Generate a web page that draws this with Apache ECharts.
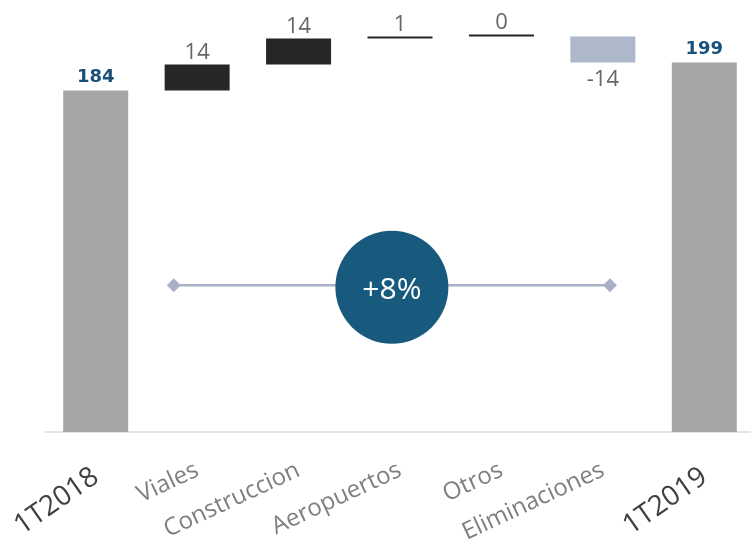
<!DOCTYPE html>
<html>
<head>
<meta charset="utf-8">
<title>Ventas 1T2018 - 1T2019</title>
<script src="https://cdn.jsdelivr.net/npm/echarts@6/dist/echarts.min.js"></script>
<style>
  html, body { margin: 0; padding: 0; background: #ffffff; }
  #chart { width: 751px; height: 544px; }
</style>
</head>
<body>
<div id="chart"></div>
<script>
// Bridge categories: opening total, the business-unit changes, closing total
const categories = ['1T2018', 'Viales', 'Construccion', 'Aeropuertos', 'Otros', 'Eliminaciones', '1T2019'];
const startValue = 184;
const endValue = 199;
const changes = [14, 14, 1, 0, -14];

// Waterfall pieces: invisible offset + visible height for each column
const offsets = [0];
const heights = [startValue];
let running = startValue;
changes.forEach(function (d) {
  if (d >= 0) {
    offsets.push(running);
    heights.push(d);
    running += d;
  } else {
    running += d;
    offsets.push(running);
    heights.push(-d);
  }
});
offsets.push(0);
heights.push(endValue);

const lastIdx = categories.length - 1;
const growthPct = Math.round((endValue - startValue) / startValue * 100);
const growthText = (growthPct >= 0 ? '+' : '') + growthPct + '%';

// Growth badge layout (in units of the helper value axis)
const badgeLine = [[0.77, 79], [5.07, 79]];
const badgeCenter = [[2.92, 78]];

const visibleData = heights.map(function (h, i) {
  const isTotal = (i === 0 || i === lastIdx);
  if (isTotal) {
    return {
      value: h,
      itemStyle: { color: '#a6a6a6' },
      label: {
        position: 'top',
        distance: 4,
        formatter: String(h),
        color: '#17507a',
        fontFamily: 'DejaVu Sans',
        fontWeight: 'bold',
        fontSize: 18
      }
    };
  }
  const d = changes[i - 1];
  return {
    value: h,
    itemStyle: { color: d < 0 ? '#adb9ca' : '#262626' },
    label: {
      position: d < 0 ? 'bottom' : 'top',
      distance: d < 0 ? 6 : 1,
      formatter: String(d),
      color: '#666666',
      fontFamily: 'Open Sans',
      fontSize: 22
    }
  };
});

const chart = echarts.init(document.getElementById('chart'), null, { renderer: 'canvas' });

chart.setOption({
  animation: false,
  backgroundColor: '#ffffff',
  textStyle: { fontFamily: 'Open Sans' },
  grid: { left: 45, top: 5, width: 710, height: 427, containLabel: false, outerBoundsMode: 'none' },
  xAxis: [
    {
      type: 'category',
      data: categories,
      position: 'bottom',
      axisLine: { show: true, lineStyle: { color: '#d9d9d9', width: 1.5 } },
      axisTick: { show: false },
      axisLabel: {
        interval: 0,
        rotate: 25,
        margin: 37,
        color: '#7f7f7f',
        fontSize: 24,
        fontFamily: 'Open Sans',
        formatter: function (v, i) { return (i === 0 || i === lastIdx) ? '' : v; }
      }
    },
    {
      type: 'category',
      data: categories,
      position: 'bottom',
      axisLine: { show: false },
      axisTick: { show: false },
      axisLabel: {
        interval: 0,
        rotate: 35,
        margin: 42,
        color: '#404040',
        fontSize: 28,
        fontFamily: 'Open Sans',
        formatter: function (v, i) { return (i === 0 || i === lastIdx) ? v : ''; }
      }
    },
    {
      type: 'value',
      min: -0.5,
      max: 6.5,
      show: false,
      position: 'bottom'
    }
  ],
  yAxis: {
    type: 'value',
    min: 0,
    max: 230,
    show: false,
    splitLine: { show: false }
  },
  series: [
    {
      name: 'offset',
      type: 'bar',
      stack: 'bridge',
      xAxisIndex: 0,
      barWidth: 65,
      silent: true,
      itemStyle: { color: 'rgba(0,0,0,0)' },
      data: offsets
    },
    {
      name: 'value',
      type: 'bar',
      stack: 'bridge',
      xAxisIndex: 0,
      barWidth: 65,
      barMinHeight: 2,
      label: { show: true },
      data: visibleData
    },
    {
      name: 'growth-line',
      type: 'line',
      xAxisIndex: 2,
      silent: true,
      symbol: 'diamond',
      symbolSize: 14,
      itemStyle: { color: '#a7b0c6', opacity: 1 },
      lineStyle: { color: '#a7b0c6', width: 2.5 },
      z: 3,
      data: badgeLine
    },
    {
      name: 'growth',
      type: 'scatter',
      xAxisIndex: 2,
      silent: true,
      symbol: 'circle',
      symbolSize: 113,
      itemStyle: { color: '#185a7d', opacity: 1 },
      z: 5,
      label: {
        show: true,
        position: 'inside',
        offset: [0, 3],
        formatter: growthText,
        color: '#ffffff',
        fontSize: 30,
        fontFamily: 'Open Sans'
      },
      data: badgeCenter
    }
  ]
});
</script>
</body>
</html>
